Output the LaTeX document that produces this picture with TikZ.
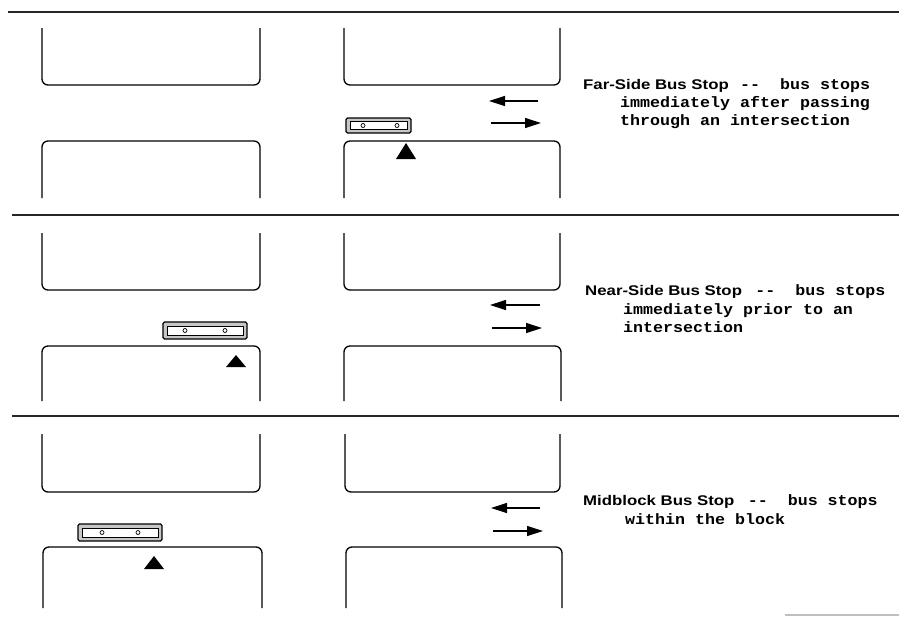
\documentclass[tikz,border=0pt]{standalone}
\usepackage{fontspec}
\usetikzlibrary{arrows.meta}
\newfontfamily\headfont[FakeStretch=1.2]{Liberation Sans}
\newfontfamily\monofont[FakeStretch=1.11]{Liberation Mono}
\tikzset{
  sep/.style={line width=1.6pt, black!85},
  blk/.style={line width=1.3pt, rounded corners=6pt},
  busout/.style={line width=1.3pt, rounded corners=1.5pt, fill=black!22},
  busin/.style={line width=0.8pt, fill=white},
  wheel/.style={line width=0.7pt},
  stopmark/.style={fill=black},
  flow/.style={line width=1.2pt, -{Triangle[length=16pt,width=10pt]}},
  head/.style={anchor=base west, inner sep=0pt, font=\headfont\bfseries\fontsize{14}{16}\selectfont},
  desc/.style={anchor=base west, inner sep=0pt, font=\monofont\bfseries\fontsize{15}{18}\selectfont},
}
\begin{document}
\begin{tikzpicture}[x=1pt,y=-1pt]
\useasboundingbox (0,0) rectangle (899,616);
% separators
\draw[sep] (8,12) -- (899,12);
\draw[sep] (12,215) -- (899,215);
\draw[sep] (12,416) -- (899,416);
\draw[line width=1.2pt, black!25] (785,615) -- (899,615);
% ---------- panel 1 ----------
\draw[blk] (42,28) -- (42,85) -- (260,85) -- (260,28);
\draw[blk] (344,28) -- (344,85) -- (560,85) -- (560,28);
\draw[blk] (42,198) -- (42,141) -- (260,141) -- (260,198);
\draw[blk] (344,198) -- (344,141) -- (560,141) -- (560,198);
\coordinate (a1l) at (538,101); \coordinate (a1le) at (489,101);
\coordinate (a1r) at (491,123); \coordinate (a1re) at (541,123);
\draw[flow] (a1l) -- (a1le);
\draw[flow] (a1r) -- (a1re);
\draw[busout] (346,118) rectangle (411,133);
\draw[busin] (350,121.5) rectangle (407,129.5);
\draw[wheel] (363,125.5) circle (2); \draw[wheel] (397,125.5) circle (2);
\fill[stopmark] (406,143) -- (416,159) -- (396,159) -- cycle;
\node[head] (f1) at (583,89) {Far-Side Bus Stop};
\node[desc] (f1d) at ([xshift=11pt]f1.base east) {-{}-~~bus stops};
\node[desc] (f2) at (620,107) {immediately after passing};
\node[desc] (f3) at (620,125) {through an intersection};
% ---------- panel 2 ----------
\draw[blk] (42,233) -- (42,290) -- (260,290) -- (260,233);
\draw[blk] (344,233) -- (344,290) -- (560,290) -- (560,233);
\draw[blk] (42,401) -- (42,346) -- (260,346) -- (260,401);
\draw[blk] (344,401) -- (344,346) -- (561,346) -- (561,401);
\coordinate (a2l) at (540,305); \coordinate (a2le) at (490,305);
\coordinate (a2r) at (492,328); \coordinate (a2re) at (542,328);
\draw[flow] (a2l) -- (a2le);
\draw[flow] (a2r) -- (a2re);
\draw[busout] (163,322) rectangle (247,339);
\draw[busin] (167,326) rectangle (243,335);
\draw[wheel] (185,330.5) circle (2); \draw[wheel] (225,330.5) circle (2);
\fill[stopmark] (236,355) -- (246,367) -- (226,367) -- cycle;
\node[head] (n1) at (585,295) {Near-Side Bus Stop};
\node[desc] (n1d) at ([xshift=13pt]n1.base east) {-{}-~~bus stops};
\node[desc] (n2) at (623,314) {immediately prior to an};
\node[desc] (n3) at (623,332) {intersection};
% ---------- panel 3 ----------
\draw[blk] (42,434) -- (42,492) -- (260,492) -- (260,434);
\draw[blk] (345,434) -- (345,492) -- (560,492) -- (560,434);
\draw[blk] (43,608) -- (43,547) -- (262,547) -- (262,608);
\draw[blk] (346,608) -- (346,547) -- (562,547) -- (562,608);
\coordinate (a3l) at (540,508); \coordinate (a3le) at (491,508);
\coordinate (a3r) at (493,531); \coordinate (a3re) at (543,531);
\draw[flow] (a3l) -- (a3le);
\draw[flow] (a3r) -- (a3re);
\draw[busout] (78,524) rectangle (162,541);
\draw[busin] (82,528) rectangle (158,537);
\draw[wheel] (102,532.5) circle (2); \draw[wheel] (138,532.5) circle (2);
\fill[stopmark] (154,556) -- (164,569) -- (144,569) -- cycle;
\node[head] (m1) at (583,505) {Midblock Bus Stop};
\node[desc] (m1d) at ([xshift=13pt]m1.base east) {-{}-~~bus stops};
\node[desc] (m2) at (625,524) {within the block};
\end{tikzpicture}
\end{document}
